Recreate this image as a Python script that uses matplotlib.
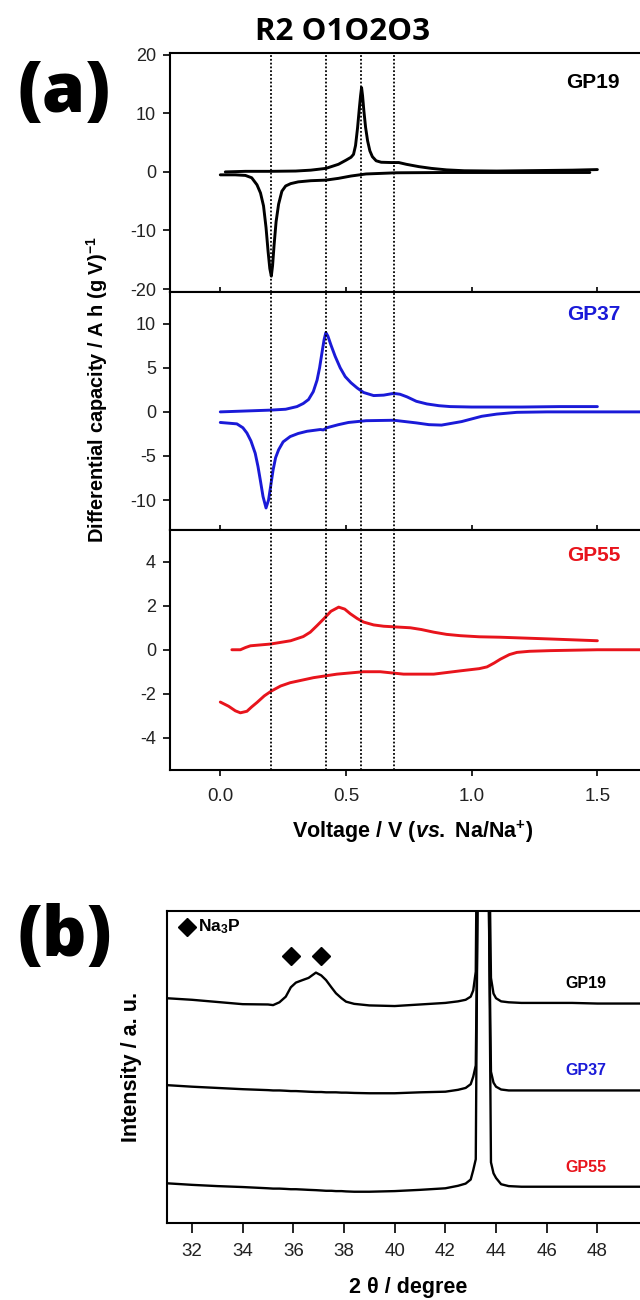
import matplotlib
matplotlib.use('Agg')
import matplotlib.pyplot as plt

plt.rcParams['font.family'] = ['Liberation Sans', 'DejaVu Sans']
plt.rcParams['axes.unicode_minus'] = False
plt.rcParams['mathtext.fontset'] = 'custom'
plt.rcParams['mathtext.rm'] = 'Liberation Sans:bold'
plt.rcParams['mathtext.bf'] = 'Liberation Sans:bold'
plt.rcParams['mathtext.it'] = 'Liberation Sans:italic:bold'

# (a) differential capacity curves, charge (upper) and discharge (lower)
gp19_chg_v = [0.02, 0.1, 0.2, 0.3, 0.36, 0.42, 0.47, 0.5, 0.52, 0.53, 0.538, 0.546,
              0.553, 0.558, 0.562, 0.566, 0.571, 0.578, 0.586, 0.595, 0.605, 0.62,
              0.64, 0.68, 0.71, 0.74, 0.79, 0.84, 0.9, 0.97, 1.1, 1.2, 1.3, 1.4, 1.5]
gp19_chg_y = [0.0, 0.1, 0.1, 0.15, 0.3, 0.6, 1.3, 2.0, 2.5, 3.0, 4.5, 7.5,
              10.8, 13.0, 14.4, 13.0, 10.5, 7.6, 5.3, 3.6, 2.6, 1.9,
              1.65, 1.6, 1.6, 1.3, 0.9, 0.6, 0.35, 0.2, 0.15, 0.2, 0.25, 0.3, 0.4]
gp19_dis_v = [0.0, 0.06, 0.1, 0.125, 0.146, 0.16, 0.172, 0.182, 0.19, 0.197, 0.203,
              0.208, 0.214, 0.222, 0.232, 0.245, 0.26, 0.28, 0.31, 0.36, 0.42,
              0.47, 0.52, 0.58, 0.7, 0.9, 1.1, 1.3, 1.47]
gp19_dis_y = [-0.5, -0.5, -0.6, -1.0, -2.2, -3.6, -5.8, -9.5, -13.5, -16.5, -17.8,
              -16.0, -12.5, -8.5, -5.5, -3.3, -2.4, -2.0, -1.7, -1.5, -1.4,
              -1.1, -0.7, -0.35, -0.15, -0.1, -0.1, -0.1, -0.1]

gp37_chg_v = [0.0, 0.1, 0.2, 0.26, 0.305, 0.33, 0.351, 0.37, 0.385, 0.395, 0.405,
              0.413, 0.42, 0.428, 0.44, 0.457, 0.477, 0.497, 0.52, 0.545, 0.57,
              0.61, 0.65, 0.69, 0.715, 0.743, 0.78, 0.822, 0.87, 0.915, 1.0, 1.2,
              1.35, 1.5]
gp37_chg_y = [0.0, 0.1, 0.2, 0.3, 0.6, 0.95, 1.4, 2.3, 3.6, 5.0, 6.8,
              8.2, 9.0, 8.6, 7.6, 6.3, 5.0, 4.0, 3.3, 2.7, 2.2,
              1.85, 1.9, 2.1, 2.0, 1.7, 1.2, 0.9, 0.7, 0.6, 0.55, 0.55,
              0.6, 0.6]
gp37_dis_v = [0.0, 0.066, 0.09, 0.106, 0.122, 0.139, 0.15, 0.159, 0.17, 0.182,
              0.192, 0.2, 0.21, 0.22, 0.232, 0.25, 0.278, 0.31, 0.345, 0.398,
              0.41, 0.424, 0.47, 0.51, 0.58, 0.69, 0.78, 0.83, 0.88, 0.96, 1.04,
              1.1, 1.18, 1.3, 1.5, 1.7, 2.0]
gp37_dis_y = [-1.2, -1.36, -1.8, -2.4, -3.3, -4.7, -6.2, -7.7, -9.6, -10.9,
              -10.0, -8.5, -6.6, -5.2, -4.3, -3.4, -2.8, -2.45, -2.2, -2.0,
              -2.05, -1.8, -1.45, -1.2, -1.0, -0.95, -1.25, -1.45, -1.5, -1.1, -0.5,
              -0.25, -0.05, 0.0, 0.0, 0.0, 0.0]

gp55_chg_v = [0.046, 0.08, 0.1, 0.12, 0.2, 0.28, 0.33, 0.358, 0.385, 0.411, 0.44,
              0.471, 0.495, 0.517, 0.545, 0.57, 0.61, 0.65, 0.756, 0.8, 0.849, 0.9,
              0.955, 1.03, 1.114, 1.313, 1.5]
gp55_chg_y = [0.0, 0.0, 0.1, 0.18, 0.26, 0.41, 0.6, 0.8, 1.1, 1.4, 1.75,
              1.94, 1.85, 1.64, 1.42, 1.26, 1.13, 1.07, 1.0, 0.92, 0.8, 0.7,
              0.64, 0.59, 0.57, 0.49, 0.41]
gp55_dis_v = [0.0, 0.033, 0.06, 0.08, 0.106, 0.125, 0.146, 0.175, 0.203, 0.24,
              0.278, 0.371, 0.464, 0.57, 0.636, 0.729, 0.849, 0.955, 1.03, 1.061,
              1.09, 1.114, 1.15, 1.18, 1.23, 1.313, 1.5, 1.7, 2.0]
gp55_dis_y = [-2.38, -2.57, -2.78, -2.87, -2.8, -2.6, -2.4, -2.1, -1.88, -1.65,
              -1.5, -1.27, -1.11, -1.0, -1.0, -1.11, -1.11, -0.96, -0.86, -0.78,
              -0.6, -0.43, -0.22, -0.12, -0.07, -0.04, 0.0, 0.0, 0.0]

phase_v = [0.2, 0.42, 0.56, 0.69]

# (b) XRD patterns (relative to each trace's baseline)
two_theta = [31.0, 32.0, 33.0, 34.0, 35.0, 35.2, 35.45, 35.7, 35.9, 36.1, 36.36,
             36.6, 36.89, 37.1, 37.29, 37.5, 37.68, 37.9, 38.08, 38.4, 39.0, 40.0,
             41.0, 42.0, 42.5, 42.8, 43.0, 43.1, 43.2, 43.3, 43.4, 43.5, 43.6, 43.7,
             43.8, 43.9, 44.0, 44.2, 44.5, 45.0, 46.0, 47.0, 48.0, 49.0, 50.0, 50.5]
xrd_gp19 = [1.5, 1.0, 0.3, -0.4, -0.5, -0.7, 0.2, 2.0, 5.0, 6.5, 7.3,
            8.0, 9.7, 8.8, 7.3, 5.0, 3.1, 1.5, 0.4, -0.3, -0.8, -1.0,
            -0.5, 0.0, 0.5, 1.0, 2.0, 4.0, 10.0, 110.0, 250.0, 250.0, 180.0, 70.0,
            8.0, 3.0, 1.5, 0.5, 0.2, 0.0, 0.0, 0.0, -0.2, -0.2, -0.2, -0.2]
xrd_gp37 = [1.7, 1.2, 0.8, 0.4, 0.1, 0.0, 0.0, -0.1, -0.2, -0.2, -0.3,
            -0.4, -0.5, -0.5, -0.6, -0.6, -0.6, -0.7, -0.7, -0.8, -0.9, -0.9,
            -0.6, -0.4, 0.2, 0.8, 2.0, 4.4, 8.0, 80.0, 200.0, 200.0, 150.0, 70.0,
            6.0, 2.5, 1.2, 0.3, 0.0, 0.0, 0.0, 0.0, 0.0, 0.0, 0.0, 0.0]
xrd_gp55 = [1.3, 0.8, 0.4, 0.1, -0.3, -0.4, -0.4, -0.5, -0.6, -0.6, -0.7,
            -0.8, -0.9, -1.0, -1.1, -1.1, -1.2, -1.2, -1.3, -1.4, -1.4, -1.2,
            -0.8, -0.3, 0.5, 1.2, 2.5, 5.5, 9.0, 130.0, 300.0, 300.0, 200.0, 110.0,
            8.0, 4.5, 3.0, 1.0, 0.4, 0.2, 0.2, 0.2, 0.2, 0.2, 0.2, 0.2]
xrd_offsets = [70.5, 42.5, 11.5]
na3p_peaks = [35.9, 37.1]

names = ['GP19', 'GP37', 'GP55']
colors = ['black', '#1a1ad8', '#e8141c']

W, H = 640, 1300
fig = plt.figure(figsize=(W / 100, H / 100), dpi=100)


def fx(px):
    return px / W


def fy(py):
    return 1 - py / H


panel_px = [(53, 292), (292, 530), (530, 769.5)]
ylims = [(-20.5, 20.3), (-13.4, 13.6), (-5.45, 5.45)]
yticks = [[-20, -10, 0, 10, 20], [-10, -5, 0, 5, 10], [-4, -2, 0, 2, 4]]
curves = [(gp19_chg_v, gp19_chg_y, gp19_dis_v, gp19_dis_y),
          (gp37_chg_v, gp37_chg_y, gp37_dis_v, gp37_dis_y),
          (gp55_chg_v, gp55_chg_y, gp55_dis_v, gp55_dis_y)]
label_y = [15.2, 11.0, 4.3]

for i in range(3):
    top, bot = panel_px[i]
    ax = fig.add_axes([fx(170), fy(bot), 502.8 / W, (bot - top) / H])
    cv, cy, dv, dy = curves[i]
    ax.plot(cv, cy, color=colors[i], lw=2.1, solid_capstyle='round',
            solid_joinstyle='round')
    ax.plot(dv, dy, color=colors[i], lw=2.1, solid_capstyle='round',
            solid_joinstyle='round')
    for v in phase_v:
        ax.axvline(v, color='black', lw=1.3, ls=(0, (1, 1.1)))
    ax.set_xlim(-0.2, 1.8)
    ax.set_ylim(*ylims[i])
    ax.set_yticks(yticks[i])
    ax.set_xticks([0.0, 0.5, 1.0, 1.5])
    for s in ax.spines.values():
        s.set_linewidth(1.5)
    ax.tick_params(axis='y', direction='out', length=5, width=1.2, pad=5,
                   labelsize=13, labelcolor='#222222')
    if i < 2:
        ax.tick_params(axis='x', direction='inout', length=7, width=1.2,
                       labelbottom=False)
    else:
        ax.tick_params(axis='x', direction='out', length=4, width=1.2, pad=9,
                       labelsize=13.5, labelcolor='#222222')
        ax.set_xticklabels(['0.0', '0.5', '1.0', '1.5'])
    ax.text(1.484, label_y[i], names[i], color=colors[i], fontsize=15,
            fontweight='bold', ha='center', va='center')

fig.text(fx(97), fy(390), 'Differential capacity / A h (g V)$^{-1}$',
         rotation=90, ha='center', va='center', fontsize=14.4, fontweight='bold')
fig.text(fx(413), fy(832), 'Voltage / V ($\\it{vs.}$ Na/Na$^{+}$)',
         ha='center', va='center', fontsize=15.5, fontweight='bold')
fig.text(fx(255), fy(40), 'R2 O1O2O3', family='Open Sans', fontsize=22.5,
         fontweight='bold', ha='left', va='baseline')
fig.text(fx(64), fy(94), '(a)', family='Open Sans', fontsize=50,
         fontweight='heavy', ha='center', va='center')
fig.text(fx(65), fy(938), '(b)', family='Open Sans', fontsize=50,
         fontweight='heavy', ha='center', va='center')

# (b) XRD
axb = fig.add_axes([fx(166.7), fy(1223.3), 494 / W, 312.6 / H])
for pattern, off in zip([xrd_gp19, xrd_gp37, xrd_gp55], xrd_offsets):
    axb.plot(two_theta, [p + off for p in pattern], color='black', lw=1.7)
axb.set_xlim(31, 50.5)
axb.set_ylim(0, 100)
axb.set_xticks([32, 34, 36, 38, 40, 42, 44, 46, 48])
axb.set_yticks([])
for s in axb.spines.values():
    s.set_linewidth(1.5)
axb.tick_params(axis='x', direction='out', length=7, width=1.2, pad=7,
                labelsize=13.5, labelcolor='#222222')
axb.plot(na3p_peaks, [85.5, 85.5], 'D', color='black', ms=9, ls='none')
axb.plot([31.79], [94.9], 'D', color='black', ms=9)
axb.text(32.25, 94.9, 'Na$_{3}$P', fontsize=12.5, fontweight='bold',
         ha='left', va='center')
for name, c, yy in zip(names, colors, [76.6, 48.8, 17.9]):
    axb.text(47.55, yy, name, color=c, fontsize=11.5, fontweight='bold',
             ha='center', va='center')
fig.text(fx(131.7), fy(1066.7), 'Intensity / a. u.', rotation=90, ha='center',
         va='center', fontsize=15.5, fontweight='bold')
fig.text(fx(408), fy(1287), '2 θ / degree', ha='center', va='center',
         fontsize=15.5, fontweight='bold')

fig.savefig('out.png', dpi=100)
